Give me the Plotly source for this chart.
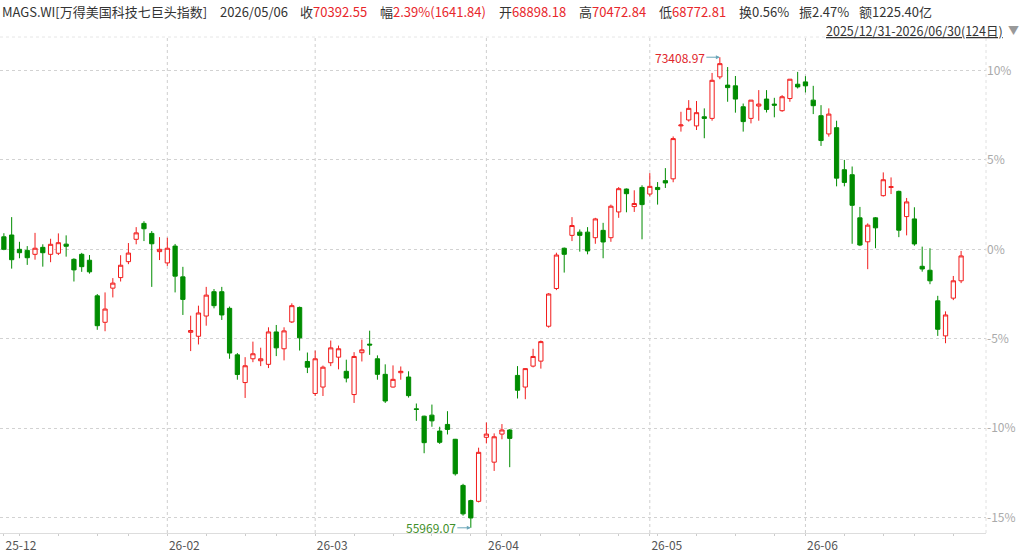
"""Candlestick chart of MAGS.WI (万得美国科技七巨头指数), percent change vs 2025/12/31."""

import pandas as pd
import plotly.graph_objects as go

# ---------------------------------------------------------------------------
# Data (percent change relative to the 2025/12/31 close)
# ---------------------------------------------------------------------------

HOLIDAYS = ["2026-01-01", "2026-01-19", "2026-02-16", "2026-04-03",
            "2026-05-25", "2026-06-19"]

opens = [
    0.70, 0.80, 0.00, -0.06, -0.28, 0.11, -0.28, -0.22, 0.29, -0.56,
    -0.28, -0.61, -2.60, -4.08, -2.17, -1.58, -0.69, 0.56, 1.45, 0.89,
    -0.13, -0.76, 0.18, -1.54, -4.64, -4.86, -3.73, -2.37, -2.37, -3.30,
    -5.90, -7.45, -6.12, -6.23, -6.43, -4.62, -5.56, -4.06, -3.25, -6.27,
    -8.06, -7.70, -6.34, -6.03, -6.82, -8.12, -5.78, -5.30, -6.12, -6.99,
    -7.70, -6.90, -7.14, -8.92, -9.33, -9.27, -10.16, -9.79, -10.62, -13.20,
    -14.05, -14.09, -10.51, -11.90, -10.33, -10.10, -7.05, -7.70, -6.53, -6.25,
    -4.30, -2.19, 0.06, 0.78, 0.96, 0.96, 0.65, 1.06, 0.65, 2.09,
    3.37, 2.39, 3.46, 3.09, 3.46, 3.84, 3.94, 6.90, 7.23, 6.90,
    7.41, 7.32, 9.64, 9.18, 9.14, 7.97, 7.32, 8.01, 8.40, 8.12,
    7.75, 8.43, 9.23, 9.36, 8.34, 7.47, 6.45, 6.80, 4.45, 4.17,
    1.76, 0.42, 1.76, 3.00, 3.46, 3.24, 1.83, 1.70, -0.95, -1.17,
    -2.88, -4.84, -2.73, -1.76,
]
highs = [
    0.90, 1.80, 0.42, 0.18, 0.92, 0.28, 0.59, 0.89, 0.78, -0.50,
    -0.20, -0.32, -2.50, -2.41, -1.61, -0.33, 0.35, 1.24, 1.57, 1.02,
    0.68, 0.65, 0.30, -0.98, -3.71, -3.15, -2.10, -2.22, -2.10, -3.20,
    -5.80, -6.03, -5.16, -5.50, -4.36, -4.23, -4.36, -3.02, -3.20, -5.77,
    -5.66, -6.50, -5.10, -5.38, -6.17, -5.75, -5.05, -4.55, -5.93, -6.43,
    -6.49, -6.55, -6.82, -8.62, -9.30, -8.68, -9.92, -9.05, -10.60, -13.11,
    -14.00, -11.09, -9.68, -10.29, -9.77, -10.05, -6.53, -6.65, -5.56, -5.10,
    -2.45, -0.19, 0.10, 1.80, 1.11, 1.24, 1.76, 1.48, 2.50, 3.48,
    3.40, 3.30, 3.58, 4.26, 3.76, 4.54, 6.31, 7.69, 8.34, 8.29,
    7.88, 9.86, 10.74, 10.19, 9.69, 8.15, 8.34, 8.90, 8.90, 8.47,
    8.62, 9.51, 9.92, 9.68, 9.14, 8.06, 7.88, 7.19, 5.00, 4.63,
    2.37, 1.45, 1.80, 4.30, 4.02, 3.28, 2.87, 2.35, 0.15, 0.06,
    -2.60, -3.47, -1.49, -0.09,
]
lows = [
    -0.05, -1.08, -0.50, -0.87, -0.58, -0.97, -0.72, -0.32, -0.41, -1.80,
    -1.26, -1.36, -4.50, -4.58, -2.69, -1.80, -0.83, 0.28, 0.46, -2.10,
    -0.60, -0.93, -2.41, -3.67, -5.69, -5.32, -4.27, -3.30, -3.95, -6.12,
    -7.29, -8.31, -6.31, -6.53, -6.64, -5.97, -6.21, -4.12, -5.66, -6.92,
    -8.20, -8.20, -6.53, -6.71, -7.44, -8.59, -6.27, -5.90, -7.29, -8.59,
    -7.73, -7.29, -8.29, -9.59, -11.40, -9.92, -10.88, -10.35, -12.65, -14.89,
    -15.57, -14.15, -10.85, -12.39, -10.62, -12.18, -8.34, -8.38, -6.60, -6.67,
    -4.38, -2.28, -1.30, 0.46, -0.13, -0.28, 0.31, -0.50, 0.42, 1.76,
    2.07, 2.09, 0.56, 2.96, 2.50, 3.43, 3.75, 6.58, 7.14, 6.67,
    6.21, 7.19, 9.51, 8.25, 7.64, 6.58, 7.04, 7.19, 7.65, 7.38,
    7.69, 8.25, 8.99, 8.77, 7.56, 5.78, 6.30, 3.52, 3.52, 0.31,
    0.18, -1.11, 0.06, 2.95, 3.09, 0.68, 0.78, 0.20, -1.25, -1.95,
    -4.84, -5.25, -2.84, -1.89,
]
closes = [
    0.00, -0.58, -0.19, -0.47, 0.06, -0.19, 0.28, 0.37, 0.17, -1.15,
    -0.97, -1.26, -4.27, -3.34, -1.89, -0.89, -0.21, 0.92, 1.15, 0.31,
    0.00, 0.06, -1.50, -2.80, -4.54, -3.56, -2.56, -3.15, -3.67, -5.80,
    -7.00, -6.51, -5.84, -6.12, -4.62, -5.51, -4.56, -3.15, -4.95, -6.59,
    -6.12, -6.59, -5.51, -5.56, -7.20, -5.99, -5.62, -5.35, -6.99, -8.48,
    -7.27, -6.82, -8.18, -8.95, -10.81, -9.59, -10.79, -10.07, -12.55, -14.79,
    -15.02, -11.35, -10.33, -10.48, -10.10, -10.57, -7.88, -6.67, -5.99, -5.16,
    -2.50, -0.32, -0.28, 1.33, 0.78, -0.09, 1.70, 0.41, 2.41, 3.39,
    3.11, 2.56, 2.50, 3.52, 3.34, 3.71, 6.19, 6.95, 7.88, 7.64,
    7.32, 9.45, 10.38, 9.04, 8.40, 7.14, 8.34, 8.12, 7.82, 8.06,
    8.53, 9.51, 9.08, 9.14, 8.03, 6.08, 7.56, 3.98, 3.74, 2.46,
    0.24, 1.35, 1.20, 3.89, 3.50, 1.07, 2.65, 0.30, -1.10, -1.76,
    -4.47, -3.67, -1.76, -0.37,
]

y_ticks = [-15, -10, -5, 0, 5, 10]

high_label = "73408.97"
low_label = "55969.07"

header_name = "MAGS.WI[万得美国科技七巨头指数]"
header_date = "2026/05/06"
header_fields = [  # (label, value, value is red)
    ("收", "70392.55", True),
    ("幅", "2.39%(1641.84)", True),
    ("开", "68898.18", True),
    ("高", "70472.84", True),
    ("低", "68772.81", True),
    ("换", "0.56%", False),
    ("振", "2.47%", False),
    ("额", "1225.40亿", False),
]
range_label = "2025/12/31-2026/06/30(124日)"

# ---------------------------------------------------------------------------
# Figure
# ---------------------------------------------------------------------------

RED = "#f21c1c"
GREEN = "#008c00"
FONT = "Noto Sans CJK SC"

W, H = 1024, 553
ML, MR, MT, MB = 0, 38, 37, 15
PW, PH = W - ML - MR, H - MT - MB

days = pd.bdate_range("2025-12-31", "2026-06-30")
days = days[~days.isin(pd.to_datetime(HOLIDAYS))]
dates = [d.strftime("%Y-%m-%d") for d in days]
ser = pd.Series(days)

# first trading day of each month / each week
month_first = ser.groupby(ser.dt.to_period("M")).first()
week_first = ser.groupby(ser.dt.to_period("W")).first()
month_ticks = [d.strftime("%Y-%m-%d") for d in month_first if d.month != 1]
tickvals = sorted(set(month_ticks) | {d.strftime("%Y-%m-%d") for d in week_first})
ticktext = [pd.Timestamp(v).strftime("%y-%m") if v in month_ticks else ""
            for v in tickvals]

fig = go.Figure()
fig.add_trace(
    go.Candlestick(
        x=dates,
        open=opens,
        high=highs,
        low=lows,
        close=closes,
        increasing=dict(line=dict(color=RED, width=1), fillcolor="white"),
        decreasing=dict(line=dict(color=GREEN, width=1), fillcolor=GREEN),
        whiskerwidth=0,
        showlegend=False,
        hoverinfo="skip",
    )
)

# month separators (dotted)
for m in month_ticks[1:]:
    fig.add_shape(type="line", xref="x", yref="paper", x0=m, x1=m, y0=0, y1=1,
                  line=dict(color="#cfcfcf", width=1, dash="dot"), layer="below")
fig.add_shape(type="line", xref="paper", yref="paper", x0=1, x1=1, y0=0, y1=1,
              line=dict(color="#e0e0e0", width=1, dash="dot"))
fig.add_shape(type="line", xref="paper", yref="paper", x0=0, x1=1, y0=1, y1=1,
              line=dict(color="#e6e6e6", width=1, dash="dot"))

# high / low markers
i_hi = max(range(len(highs)), key=lambda i: highs[i])
i_lo = min(range(len(lows)), key=lambda i: lows[i])
for idx, yv, txt, col in [(i_hi, highs[i_hi], high_label, "#e0262b"),
                          (i_lo, lows[i_lo], low_label, "#3f8f2a")]:
    fig.add_annotation(x=dates[idx], y=yv, text=txt, showarrow=True,
                       ax=-40, ay=0, arrowhead=2, arrowsize=0.8, arrowwidth=1,
                       arrowcolor="#6aa6b8", standoff=0,
                       font=dict(family=FONT, size=12, color=col))


def px_x(px):
    return (px - ML) / PW


def px_y(py):
    return (H - MB - py) / PH


# header line
fig.add_annotation(xref="paper", yref="paper", x=px_x(0), y=px_y(11),
                   xanchor="left", yanchor="middle", showarrow=False,
                   text=header_name, font=dict(family=FONT, size=13, color="#333"))
fig.add_annotation(xref="paper", yref="paper", x=px_x(218), y=px_y(11),
                   xanchor="left", yanchor="middle", showarrow=False,
                   text=header_date, font=dict(family=FONT, size=13, color="#333"))
field_x = [298, 378, 497, 577, 657, 737, 797, 857]
for (lab, val, red), fx in zip(header_fields, field_x):
    vcol = "#e8262b" if red else "#333"
    fig.add_annotation(xref="paper", yref="paper", x=px_x(fx), y=px_y(11),
                       xanchor="left", yanchor="middle", showarrow=False,
                       text=f"{lab}<span style='color:{vcol}'>{val}</span>",
                       font=dict(family=FONT, size=13, color="#333"))
fig.add_annotation(xref="paper", yref="paper", x=px_x(1005), y=px_y(30),
                   xanchor="right", yanchor="middle", showarrow=False,
                   text=f"<u>{range_label}</u>",
                   font=dict(family=FONT, size=12.5, color="#333"))
fig.add_annotation(xref="paper", yref="paper", x=px_x(1006), y=px_y(30),
                   xanchor="left", yanchor="middle", showarrow=False,
                   text="▼", font=dict(family=FONT, size=11, color="#999"))

fig.update_layout(
    width=W,
    height=H,
    margin=dict(l=ML, r=MR, t=MT, b=MB),
    paper_bgcolor="white",
    plot_bgcolor="white",
    boxgap=0.22,
    xaxis=dict(
        type="category",
        range=[-0.5, 126.2],
        rangeslider=dict(visible=False),
        tickmode="array",
        tickvals=tickvals,
        ticktext=ticktext,
        ticks="outside",
        ticklen=2,
        tickcolor="#cccccc",
        ticklabelshift=17,
        ticklabelstandoff=0,
        showgrid=False,
        showline=True,
        linecolor="#dddddd",
        linewidth=1,
        tickfont=dict(family=FONT, size=12, color="#555"),
        fixedrange=True,
    ),
    yaxis=dict(
        side="right",
        range=[-15.86, 11.87],
        tickmode="array",
        tickvals=y_ticks,
        ticktext=[f"{v}%" for v in y_ticks],
        showgrid=True,
        gridcolor="#d2d2d2",
        griddash="dot",
        zeroline=False,
        ticks="",
        tickfont=dict(family=FONT, size=12, color="#aaaaaa"),
        fixedrange=True,
    ),
)

fig.write_html(
    "out.html",
    config={"displayModeBar": False},
    post_script="document.body.style.margin='0';document.body.style.overflow='hidden';",
)
